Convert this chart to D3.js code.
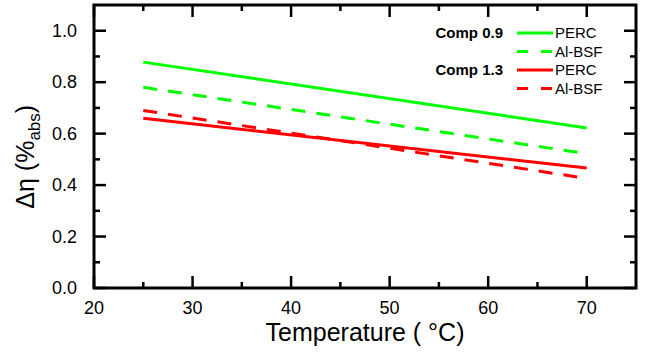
<!DOCTYPE html>
<html lang="en">
<head>
<meta charset="UTF-8">
<title>Delta eta vs temperature</title>
<script src="https://d3js.org/d3.v7.min.js"></script>
<style>
    body { margin: 0; background: #fff; }
    svg { display: block; font-family: "Liberation Sans", Arial, sans-serif; }
    .tick-label { font-size: 18px; fill: #000; }
    .legend text { font-size: 15px; fill: #000; }
</style>
</head>
<body>
<div id="chart"></div>
<script>
// temperatures (°C) where the curves start and end
const temps = [25, 70];

// efficiency difference (%abs)
const comp09Perc  = [0.878, 0.622];
const comp09AlBsf = [0.780, 0.522];
const comp13Perc  = [0.660, 0.466];
const comp13AlBsf = [0.690, 0.426];

const xTicks = [20, 30, 40, 50, 60, 70];
const yTicks = [0.0, 0.2, 0.4, 0.6, 0.8, 1.0];

const series = [
    {group: "Comp 0.9", name: "PERC",   values: comp09Perc,  color: "#00ff00", dashed: false},
    {group: "",         name: "Al-BSF", values: comp09AlBsf, color: "#00ff00", dashed: true},
    {group: "Comp 1.3", name: "PERC",   values: comp13Perc,  color: "#ff0000", dashed: false},
    {group: "",         name: "Al-BSF", values: comp13AlBsf, color: "#ff0000", dashed: true}
];

const W = 657, H = 356;
const margin = {top: 5, right: 21, bottom: 68, left: 94};
const width = W - margin.left - margin.right,
      height = H - margin.top - margin.bottom;

const svg = d3.select("#chart").append("svg")
    .attr("width", W)
    .attr("height", H);

const g = svg.append("g")
    .attr("transform", `translate(${margin.left},${margin.top})`);

const x = d3.scaleLinear().domain([20, 75]).range([0, width]);
const y = d3.scaleLinear().domain([0, 1.1]).range([height, 0]);

// data lines
const line = d3.line()
    .x((d, i) => x(temps[i]))
    .y(d => y(d));

g.selectAll("path.series")
    .data(series)
    .enter().append("path")
    .attr("class", "series")
    .attr("fill", "none")
    .attr("stroke", d => d.color)
    .attr("stroke-width", 3)
    .attr("stroke-dasharray", d => d.dashed ? "14,11" : null)
    .attr("d", d => line(d.values));

// ticks pointing inward on all four sides
const xMinor = d3.range(25, 75, 10);
const yMinor = d3.range(0.1, 1.1, 0.2);
const tickStroke = 2.5;
const majLen = 12, minLen = 6;

function vTicks(vals, len, y0, dir) {
    g.selectAll(null).data(vals).enter().append("line")
        .attr("x1", d => x(d)).attr("x2", d => x(d))
        .attr("y1", y0).attr("y2", y0 + dir * len)
        .attr("stroke", "#000").attr("stroke-width", tickStroke);
}
function hTicks(vals, len, x0, dir) {
    g.selectAll(null).data(vals).enter().append("line")
        .attr("y1", d => y(d)).attr("y2", d => y(d))
        .attr("x1", x0).attr("x2", x0 + dir * len)
        .attr("stroke", "#000").attr("stroke-width", tickStroke);
}
vTicks(xTicks, majLen, height, -1);
vTicks(xMinor, minLen, height, -1);
vTicks(xTicks, majLen, 0, 1);
vTicks(xMinor, minLen, 0, 1);
hTicks(yTicks, majLen, 0, 1);
hTicks(yMinor, minLen, 0, 1);
hTicks(yTicks, majLen, width, -1);
hTicks(yMinor, minLen, width, -1);

// frame
g.append("rect")
    .attr("width", width).attr("height", height)
    .attr("fill", "none")
    .attr("stroke", "#000")
    .attr("stroke-width", 3);

// tick labels
g.selectAll("text.xl").data(xTicks).enter().append("text")
    .attr("class", "tick-label")
    .attr("x", d => x(d))
    .attr("y", height + 26)
    .attr("text-anchor", "middle")
    .text(d => d);

g.selectAll("text.yl").data(yTicks).enter().append("text")
    .attr("class", "tick-label")
    .attr("x", -17)
    .attr("y", d => y(d))
    .attr("dy", "0.35em")
    .attr("text-anchor", "end")
    .text(d => d.toFixed(1));

// axis titles
g.append("text")
    .attr("x", width / 2)
    .attr("y", height + 53)
    .attr("text-anchor", "middle")
    .style("font-size", "25px")
    .text("Temperature ( \u00B0C)");

const yt = g.append("text")
    .attr("transform", `translate(${-60},${y(0.51)}) rotate(-90)`)
    .attr("text-anchor", "middle")
    .style("font-size", "25px");
yt.append("tspan").text("\u0394\u03B7 (%");
yt.append("tspan").attr("dy", 6).style("font-size", "17px").text("abs");
yt.append("tspan").attr("dy", -6).text(")");

// legend
const legend = g.append("g").attr("class", "legend")
    .attr("transform", "translate(423,28)");
const rowH = 18.5;
const rows = legend.selectAll("g").data(series).enter().append("g")
    .attr("transform", (d, i) => `translate(0,${i * rowH})`);
rows.append("text")
    .attr("x", -14).attr("dy", "0.35em")
    .attr("text-anchor", "end")
    .style("font-weight", "bold")
    .text(d => d.group);
rows.append("line")
    .attr("x1", 0).attr("x2", 36)
    .attr("stroke", d => d.color)
    .attr("stroke-width", 3)
    .attr("stroke-dasharray", d => d.dashed ? "11,13" : null);
rows.append("text")
    .attr("x", 38).attr("dy", "0.35em")
    .text(d => d.name);
</script>
</body>
</html>
